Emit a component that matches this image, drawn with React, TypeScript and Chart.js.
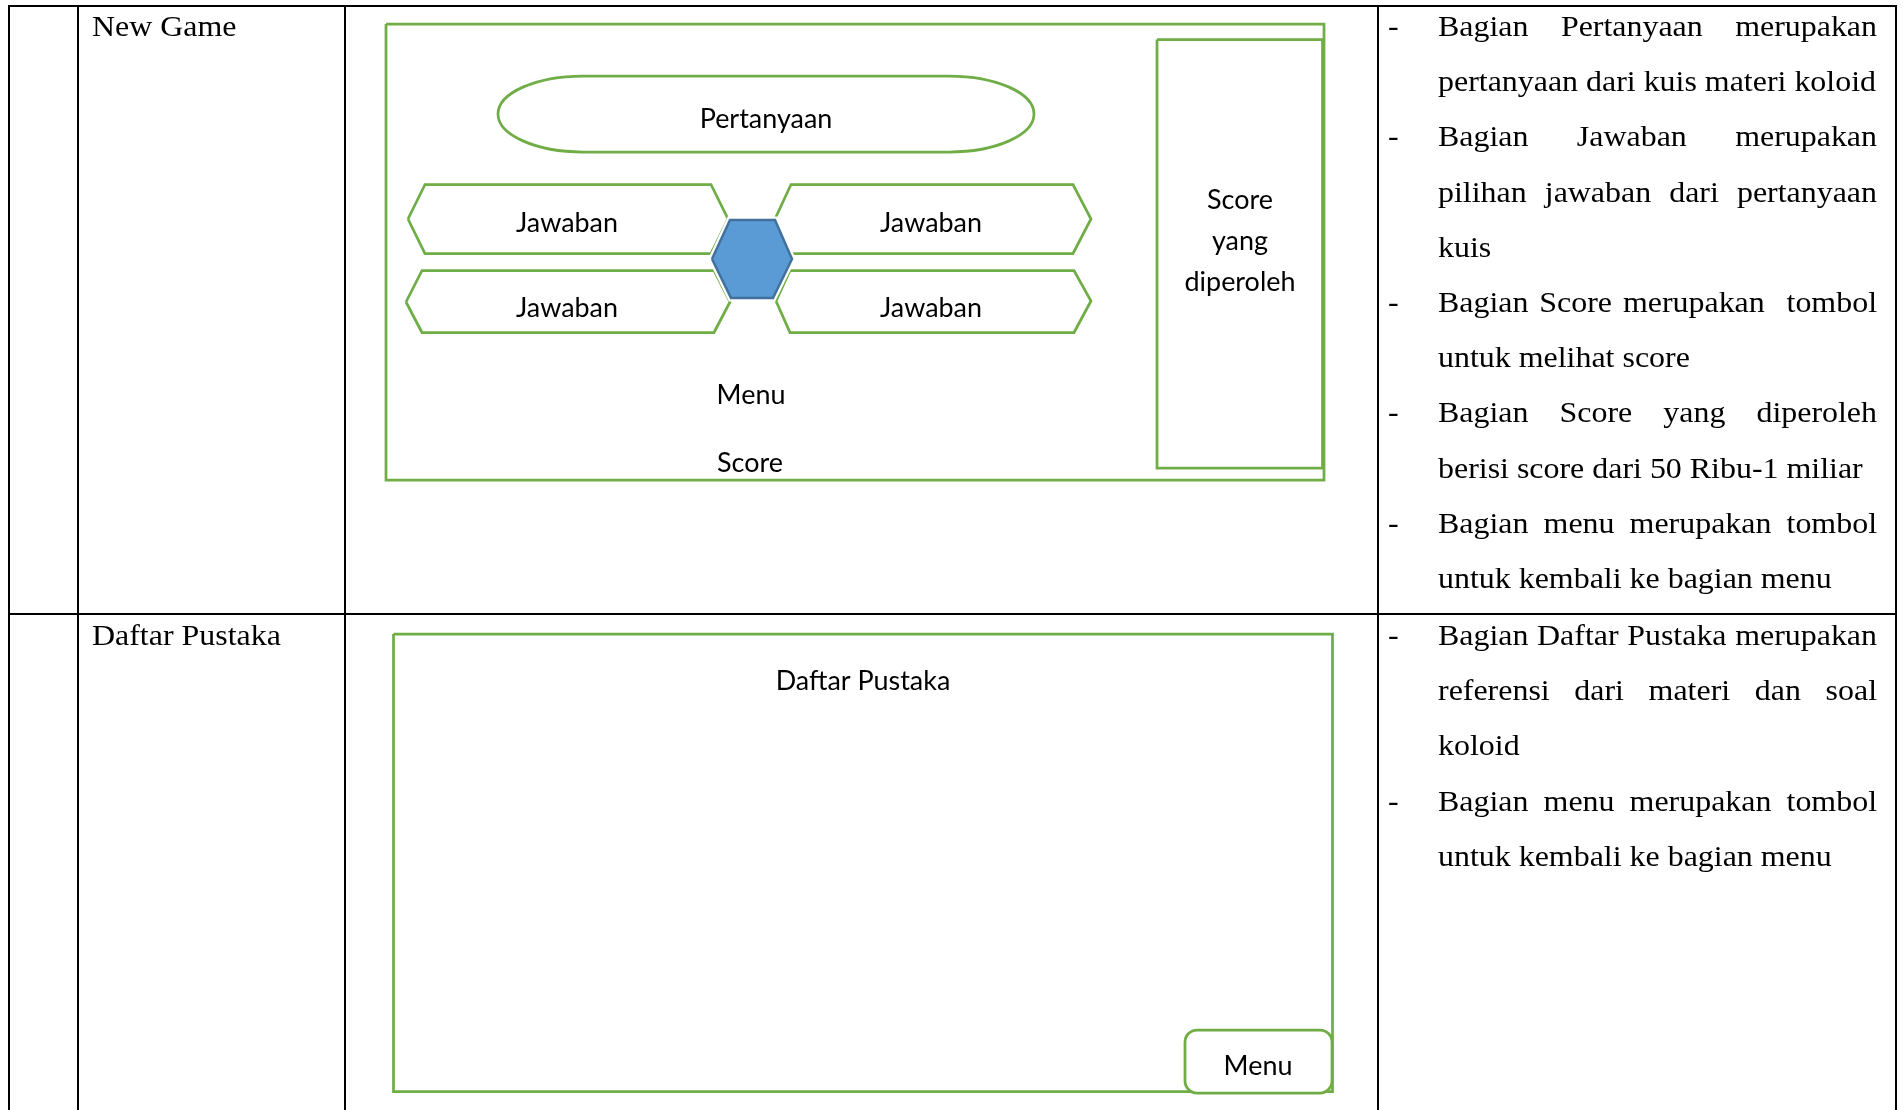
import React, { useEffect, useRef } from "react";
import { Chart, registerables } from "chart.js";

Chart.register(...registerables);

const PAGE_W = 1903;
const PAGE_H = 1110;

// ---------- table grid (page units) ----------
const tableColumnX = [9, 78, 345, 1378, 1896];
const tableRowY = [6, 614];
const tableBottom = 1110;

// ---------- row titles ----------
const rowTitles = ["New Game", "Daftar Pustaka"];
const rowTitleBaselines = [36, 645];
const rowTitleX = 92;

// ---------- notes (right column), one array per paragraph line-set ----------
const newGameNotes = [
  ["Bagian Pertanyaan merupakan", "pertanyaan dari kuis materi koloid"],
  ["Bagian Jawaban merupakan", "pilihan jawaban dari pertanyaan", "kuis"],
  ["Bagian Score merupakan  tombol", "untuk melihat score"],
  ["Bagian Score yang diperoleh", "berisi score dari 50 Ribu-1 miliar"],
  ["Bagian menu merupakan tombol", "untuk kembali ke bagian menu"],
];
const daftarNotes = [
  ["Bagian Daftar Pustaka merupakan", "referensi dari materi dan soal", "koloid"],
  ["Bagian menu merupakan tombol", "untuk kembali ke bagian menu"],
];
const notesFirstBaseline = [36, 645];
const notesLineStep = 55.2;
const notesDashX = 1388;
const notesLeft = 1438;
const notesRight = 1877;

// ---------- wireframe shapes (page units) ----------
const gameFrame = [386, 24, 1324, 480];
const scorePanel = [1157, 39.5, 1322.5, 468];
const questionPill = [498, 76, 1034, 152];
const questionPillRadius = 85;
const answerHexes = [
  [[408, 219], [425, 184.5], [711, 184.5], [728, 219], [711, 253.5], [425, 253.5]],
  [[406, 302], [422, 270.5], [714, 270.5], [730, 302], [714, 332.5], [422, 332.5]],
  [[775, 219], [791, 184.5], [1073, 184.5], [1091, 219], [1073, 253.5], [791, 253.5]],
  [[776, 301], [790, 270.5], [1074, 270.5], [1091, 301], [1074, 332.5], [790, 332.5]],
];
const centerHex = [[712, 259], [730, 220], [775, 220], [792, 259], [773, 298], [731, 298]];
const referenceFrame = [393.5, 634, 1332.5, 1091.5];
const menuButton = [1185, 1030, 1332, 1093];
const menuButtonRadius = 12;

// ---------- wireframe labels ----------
const screenLabelTexts = [
  "Pertanyaan",
  "Jawaban", "Jawaban", "Jawaban", "Jawaban",
  "Score", "yang", "diperoleh",
  "Menu", "Score",
  "Daftar Pustaka", "Menu",
];
const screenLabelX = [766, 567, 931, 567, 931, 1240, 1240, 1240, 751, 750, 863, 1258];
const screenLabelY = [128, 231.5, 231.5, 316.5, 316.5, 208.5, 249.5, 290.5, 403.5, 471.5, 689.5, 1074.5];

const GREEN = "#70AD47";
const BLUE_FILL = "#5B9BD5";
const BLUE_LINE = "#41719C";
const SERIF = "'Liberation Serif', 'Times New Roman', serif";
const SANS = "Lato, 'Open Sans', sans-serif";
const SERIF_SIZE = 30;
const SANS_SIZE = 27;

type P = number[];
const rectPts = (r: number[]): P[] => [
  [r[0], r[1]], [r[2], r[1]], [r[2], r[3]], [r[0], r[3]], [r[0], r[1]],
];
const closePts = (pts: P[]): P[] => [...pts, pts[0]];

function lineDataset(pts: P[], color: string, width: number, order: number, extra: any = {}) {
  return {
    data: pts.map(([x, y]) => ({ x, y })),
    showLine: true,
    borderColor: color,
    borderWidth: width,
    pointRadius: 0,
    pointHoverRadius: 0,
    tension: 0,
    fill: false,
    clip: false,
    order,
    borderJoinStyle: "miter",
    ...extra,
  };
}

function drawScaled(ctx: CanvasRenderingContext2D, text: string, x: number, y: number, sx: number, align: CanvasTextAlign) {
  ctx.save();
  ctx.translate(x, y);
  ctx.scale(sx, 1);
  ctx.textAlign = align;
  ctx.textBaseline = "alphabetic";
  ctx.fillText(text, 0, 0);
  ctx.restore();
}

const overlayPlugin = {
  id: "wireframeOverlay",
  afterDatasetsDraw(chart: any) {
    const ctx: CanvasRenderingContext2D = chart.ctx;
    const xs = chart.scales.x;
    const ys = chart.scales.y;
    const px = (v: number) => xs.getPixelForValue(v);
    const py = (v: number) => ys.getPixelForValue(v);

    // question pill
    ctx.save();
    {
      const x0 = px(questionPill[0]), y0 = py(questionPill[1]);
      const x1 = px(questionPill[2]), y1 = py(questionPill[3]);
      const rx = px(questionPill[0] + questionPillRadius) - x0;
      const ry = (y1 - y0) / 2;
      const cy = (y0 + y1) / 2;
      ctx.beginPath();
      ctx.moveTo(x0 + rx, y0);
      ctx.lineTo(x1 - rx, y0);
      ctx.ellipse(x1 - rx, cy, rx, ry, 0, -Math.PI / 2, Math.PI / 2);
      ctx.lineTo(x0 + rx, y1);
      ctx.ellipse(x0 + rx, cy, rx, ry, 0, Math.PI / 2, (3 * Math.PI) / 2);
      ctx.closePath();
      ctx.strokeStyle = GREEN;
      ctx.lineWidth = 2.75;
      ctx.stroke();
    }
    // menu button (rounded)
    {
      const x0 = px(menuButton[0]), y0 = py(menuButton[1]);
      const x1 = px(menuButton[2]), y1 = py(menuButton[3]);
      const r = px(menuButton[0] + menuButtonRadius) - x0;
      ctx.beginPath();
      ctx.roundRect(x0, y0, x1 - x0, y1 - y0, r);
      ctx.fillStyle = "#ffffff";
      ctx.fill();
      ctx.strokeStyle = GREEN;
      ctx.lineWidth = 2.75;
      ctx.stroke();
    }
    ctx.restore();

    // wireframe labels
    ctx.save();
    ctx.fillStyle = "#000000";
    ctx.font = `${SANS_SIZE}px ${SANS}`;
    const sansRef = ctx.measureText("Jawaban").width;
    const sansSx = 102 / sansRef;
    screenLabelTexts.forEach((t, i) => {
      drawScaled(ctx, t, px(screenLabelX[i]), py(screenLabelY[i]), sansSx, "center");
    });
    ctx.restore();

    // serif texts
    ctx.save();
    ctx.fillStyle = "#000000";
    ctx.font = `${SERIF_SIZE}px ${SERIF}`;
    const serifRef = ctx.measureText("pertanyaan dari kuis materi koloid").width;
    const serifSx = 438 / serifRef;
    rowTitles.forEach((t, i) => drawScaled(ctx, t, px(rowTitleX), py(rowTitleBaselines[i]), serifSx, "left"));

    const spaceW = ctx.measureText(" ").width * serifSx;
    [newGameNotes, daftarNotes].forEach((paras, r) => {
      let lineIdx = 0;
      paras.forEach((para) => {
        para.forEach((line, li) => {
          const y = py(notesFirstBaseline[r] + lineIdx * notesLineStep);
          if (li === 0) drawScaled(ctx, "-", px(notesDashX), y, serifSx, "left");
          const words = line.split(" ");
          const widths = words.map((w) => ctx.measureText(w).width * serifSx);
          const total = widths.reduce((a, b) => a + b, 0);
          const gaps = words.length - 1;
          const justify = li < para.length - 1 && gaps > 0;
          const left = px(notesLeft);
          const right = px(notesRight);
          const gap = justify ? (right - left - total) / gaps : spaceW;
          let x = left;
          words.forEach((w, wi) => {
            if (w.length) drawScaled(ctx, w, x, y, serifSx, "left");
            x += widths[wi] + gap;
          });
          lineIdx++;
        });
      });
    });
    ctx.restore();
  },
};

export default function App() {
  const canvasRef = useRef<HTMLCanvasElement | null>(null);

  useEffect(() => {
    const canvas = canvasRef.current;
    if (!canvas) return;

    const datasets: any[] = [];
    // centre hexagon (top)
    datasets.push(
      lineDataset(closePts(centerHex), BLUE_LINE, 2.5, 0, {
        fill: "shape",
        backgroundColor: BLUE_FILL,
      })
    );
    // white halo around centre hexagon
    datasets.push(lineDataset(closePts(centerHex), "#ffffff", 7, 1));
    // green wireframe shapes
    datasets.push(lineDataset(rectPts(gameFrame), GREEN, 2.75, 2));
    datasets.push(lineDataset(rectPts(scorePanel), GREEN, 2.75, 2));
    answerHexes.forEach((h) => datasets.push(lineDataset(closePts(h), GREEN, 2.75, 2)));
    datasets.push(lineDataset(rectPts(referenceFrame), GREEN, 2.75, 2));
    // table grid
    tableColumnX.forEach((x) =>
      datasets.push(lineDataset([[x, tableRowY[0]], [x, tableBottom]], "#000000", 2, 3, { borderCapStyle: "square" }))
    );
    tableRowY.forEach((y) =>
      datasets.push(
        lineDataset([[tableColumnX[0], y], [tableColumnX[tableColumnX.length - 1], y]], "#000000", 2, 3, {
          borderCapStyle: "square",
        })
      )
    );

    const chart = new Chart(canvas, {
      type: "scatter",
      data: { datasets },
      options: {
        animation: false,
        responsive: false,
        maintainAspectRatio: false,
        devicePixelRatio: 1,
        events: [],
        layout: { padding: 0 },
        scales: {
          x: { type: "linear", min: 0, max: PAGE_W, display: false },
          y: { type: "linear", min: 0, max: PAGE_H, reverse: true, display: false },
        },
        plugins: {
          legend: { display: false },
          tooltip: { enabled: false },
        },
      } as any,
      plugins: [overlayPlugin],
    });
    return () => chart.destroy();
  }, []);

  return (
    <div style={{ position: "absolute", left: 0, top: 0, width: PAGE_W, height: PAGE_H, background: "#ffffff" }}>
      <canvas ref={canvasRef} width={PAGE_W} height={PAGE_H} style={{ width: PAGE_W, height: PAGE_H, display: "block" }} />
    </div>
  );
}
